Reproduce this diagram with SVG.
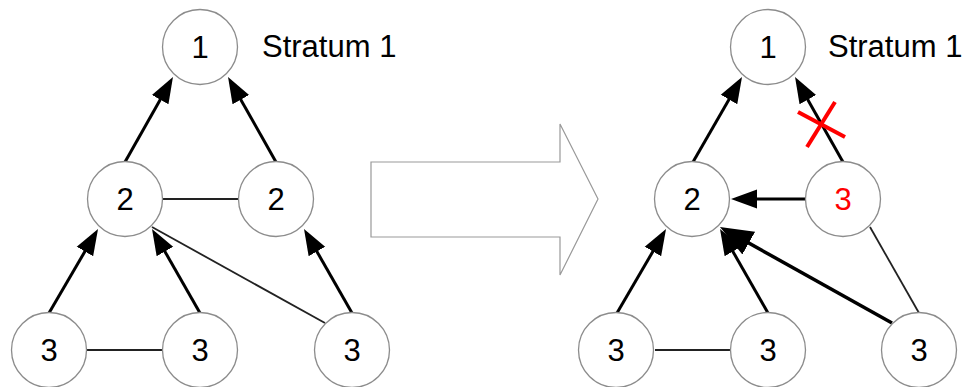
<svg xmlns="http://www.w3.org/2000/svg" width="970" height="387" viewBox="0 0 970 387">
<defs>
<style>
.node circle{fill:#fff;stroke:#8c8c8c;stroke-width:1.3}
.node text,.lbl{font-family:"Liberation Sans",Arial,sans-serif;font-size:31px;fill:#000}
.node text{text-anchor:middle}
.arr{stroke:#000;stroke-width:3;fill:none;marker-end:url(#ah)}
.arrb{stroke:#000;stroke-width:3.5;fill:none;marker-end:url(#ahb)}
.thin{stroke:#222;stroke-width:1.8;fill:none}
.x{stroke:#ff0000;stroke-width:4;fill:none}
</style>
<marker id="ah" markerUnits="userSpaceOnUse" markerWidth="28" markerHeight="21" refX="21" refY="9.5" orient="auto" viewBox="0 0 28 19">
<path d="M0,0 L26,9.5 L0,19 Z" fill="#000"/>
</marker>
<marker id="ahb" markerUnits="userSpaceOnUse" markerWidth="34" markerHeight="28" refX="27" refY="13" orient="auto" viewBox="0 0 34 26">
<path d="M0,0 L33,13 L0,26 Z" fill="#000"/>
</marker>
</defs>
<rect width="970" height="387" fill="#fff"/>

<g id="connectors">
<line class="arr" x1="125" y1="162" x2="170.5" y2="81.4"/>
<line class="arr" x1="276" y1="162" x2="230.5" y2="81.4"/>
<line class="arr" x1="49" y1="313" x2="95.5" y2="233.3"/>
<line class="arr" x1="200" y1="313" x2="154.5" y2="233.3"/>
<line class="arr" x1="352" y1="313" x2="306.5" y2="233.3"/>
<line class="thin" x1="163" y1="199" x2="239" y2="199"/>
<line class="thin" x1="152" y1="227" x2="325" y2="323"/>
<line class="thin" x1="87" y1="350" x2="163" y2="350"/>
<line class="arr" x1="693" y1="162" x2="739.5" y2="81.3"/>
<line class="arr" x1="843" y1="162" x2="797.5" y2="81.4"/>
<line class="arr" x1="806" y1="199" x2="736" y2="199"/>
<line class="arr" x1="617" y1="313" x2="663.5" y2="233.3"/>
<line class="arr" x1="768" y1="313" x2="722.5" y2="233.3"/>
<line class="arrb" x1="892" y1="323" x2="725.2" y2="229.9"/>
<line class="thin" x1="870" y1="227" x2="919" y2="313"/>
<line class="thin" x1="655" y1="350" x2="730" y2="350"/>
</g>

<g id="big-arrow">
<polygon points="371,162 560,162 560,124 598,199 560,275 560,237 371,237" fill="#fff" stroke="#999" stroke-width="1.2"/>
</g>

<g id="L1" class="node"><circle cx="200" cy="47" r="37.5"/><text x="200" y="58">1</text></g>
<g id="L2a" class="node"><circle cx="125" cy="199" r="37.5"/><text x="125" y="210">2</text></g>
<g id="L2b" class="node"><circle cx="276" cy="199" r="37.5"/><text x="276" y="210">2</text></g>
<g id="L3a" class="node"><circle cx="49" cy="350" r="37.5"/><text x="49" y="361">3</text></g>
<g id="L3b" class="node"><circle cx="200" cy="350" r="37.5"/><text x="200" y="361">3</text></g>
<g id="L3c" class="node"><circle cx="352" cy="350" r="37.5"/><text x="352" y="361">3</text></g>
<text class="lbl" x="262" y="57">Stratum 1</text>

<g id="R1" class="node"><circle cx="768" cy="47" r="37.5"/><text x="768" y="58">1</text></g>
<g id="R2" class="node"><circle cx="692" cy="199" r="37.5"/><text x="692" y="210">2</text></g>
<g id="R3red" class="node"><circle cx="843" cy="199" r="37.5"/><text x="843" y="210" style="fill:#ff0000">3</text></g>
<g id="R3a" class="node"><circle cx="616" cy="350" r="37.5"/><text x="616" y="361">3</text></g>
<g id="R3b" class="node"><circle cx="768" cy="350" r="37.5"/><text x="768" y="361">3</text></g>
<g id="R3c" class="node"><circle cx="919" cy="350" r="37.5"/><text x="919" y="361">3</text></g>
<text class="lbl" x="828" y="57">Stratum 1</text>

<g id="cross">
<line class="x" x1="798" y1="112" x2="845" y2="137"/>
<line class="x" x1="835" y1="102" x2="807" y2="147"/>
</g>
</svg>
